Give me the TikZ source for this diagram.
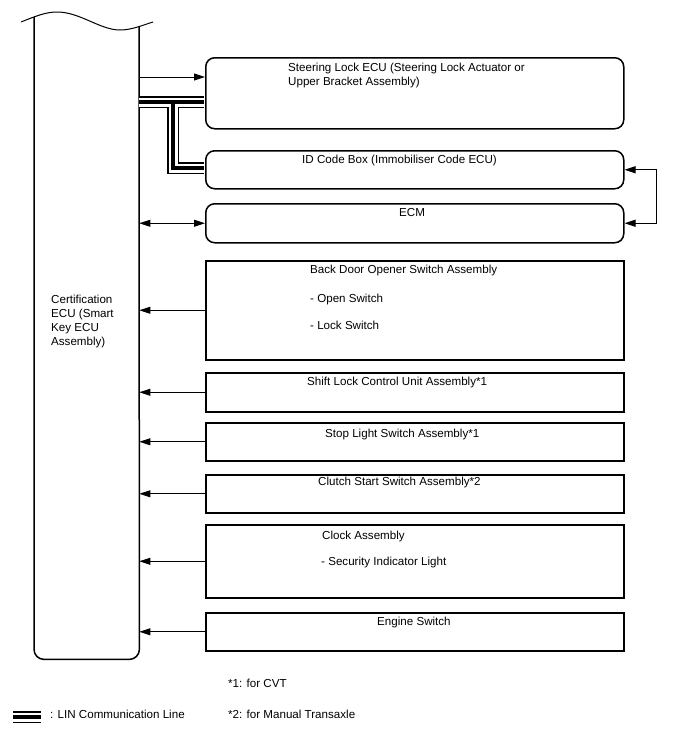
\documentclass[tikz,border=0pt]{standalone}
\usepackage{fontspec}
\setmainfont{Liberation Sans}
\usetikzlibrary{arrows.meta}
\tikzset{
  unitbox/.style={draw,line width=1.5pt,inner sep=0pt,anchor=north west,minimum width=418pt},
  ecubox/.style={unitbox,rounded corners=9pt},
  lbl/.style={inner sep=0pt,anchor=base west,font=\fontsize{11.6}{14}\selectfont},
  sig/.style={line width=0.9pt,-{Triangle[length=11pt,width=7pt]}},
  both/.style={line width=0.9pt,{Triangle[length=11pt,width=7pt]}-{Triangle[length=11pt,width=7pt]}}
}
\begin{document}
\begin{tikzpicture}[x=1pt,y=-1pt]
\useasboundingbox (0,0) rectangle (688,755);
% units
\node[ecubox,minimum height=71pt] (steer) at (205,57) {};
\node[ecubox,minimum height=38pt] (idbox) at (205,150) {};
\node[ecubox,minimum height=39pt] (ecm) at (205,203) {};
\node[unitbox,minimum height=99pt] (back) at (205,260) {};
\node[unitbox,minimum height=39pt] (shift) at (205,372) {};
\node[unitbox,minimum height=38pt] (stop) at (205,422) {};
\node[unitbox,minimum height=38pt] (clutch) at (205,474) {};
\node[unitbox,minimum height=73pt] (clock) at (205,524) {};
\node[unitbox,minimum height=38pt] (eng) at (205,612) {};
% certification ECU, cut at the top
\node[inner sep=0pt,minimum width=105pt,minimum height=639pt,anchor=north west] (cert) at (34,20) {};
\draw[line width=1.5pt,rounded corners=10pt] (34,17) -- (cert.south west) -- (cert.south east) -- (139,27);
\draw[line width=1pt] (21,22) .. controls (36,16) and (46,12) .. (57,12)
  .. controls (80,12) and (100,30) .. (120,30) .. controls (132,30) and (143,25) .. (153,22);
\node[lbl,anchor=north west,align=left] (certtxt) at (51,295) {Certification\\ECU (Smart\\Key ECU\\Assembly)};
% texts
\node[lbl,anchor=north west,align=left] (steertxt) at (288,63) {Steering Lock ECU (Steering Lock Actuator or\\Upper Bracket Assembly)};
\node[lbl] (idtxt) at (302,163) {ID Code Box (Immobiliser Code ECU)};
\node[lbl] (ecmtxt) at (399,216) {ECM};
\node[lbl] (backtxt) at (310,273) {Back Door Opener Switch Assembly};
\node[lbl] (opentxt) at (310,302) {- Open Switch};
\node[lbl] (locktxt) at (310,329) {- Lock Switch};
\node[lbl] (shifttxt) at (307,385) {Shift Lock Control Unit Assembly*1};
\node[lbl] (stoptxt) at (325,437) {Stop Light Switch Assembly*1};
\node[lbl] (clutchtxt) at (318,485) {Clutch Start Switch Assembly*2};
\node[lbl] (clocktxt) at (322,539) {Clock Assembly};
\node[lbl] (sectxt) at (321,565) {- Security Indicator Light};
\node[lbl] (engtxt) at (377,625) {Engine Switch};
% LIN lines
\path (13,717) coordinate (L1) (41,717) coordinate (L2);
\foreach \w/\c in {12pt/black,9pt/white,4pt/black}{
\draw[line width=\w,\c] (cert.east |- 0,102) -- ([xshift=-0.8pt]steer.west |- 0,102);
\draw[line width=\w,\c] (173,102) -- (173,168) -- ([xshift=-0.8pt]idbox.west |- 0,168);
\draw[line width=\w,\c] (L1) -- (L2);
}
% signal lines
\draw[sig] (cert.east |- 0,77) -- (steer.west |- 0,77);
\draw[both] (cert.east |- ecm.west) -- (ecm.west);
\draw[both] (idbox.east) -- ++(32,0) |- (ecm.east);
\foreach \b in {back,shift,stop,clutch,clock,eng}
\draw[sig] (\b.west) -- (cert.east |- \b.west);
% notes
\node[lbl] (lintxt) at (50,718) {: LIN Communication Line};
\node[lbl] (note1) at (228,687) {*1: for CVT};
\node[lbl] (note2) at (228,718) {*2: for Manual Transaxle};
\end{tikzpicture}
\end{document}
